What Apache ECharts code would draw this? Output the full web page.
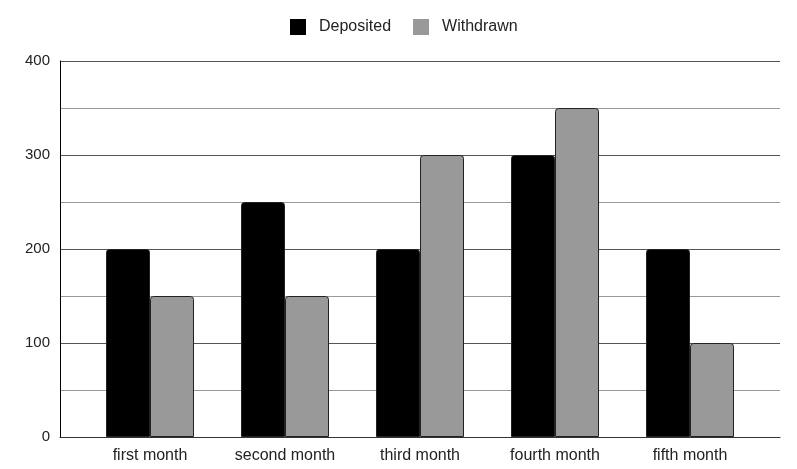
<!DOCTYPE html>
<html><head><meta charset="utf-8">
<script src="https://cdn.jsdelivr.net/npm/echarts@6/dist/echarts.min.js"></script>
<style>html,body{margin:0;padding:0;background:#fff}#c{width:797px;height:469px}</style>
</head><body><div id="c"></div>
<script>
const categories = ['first month', 'second month', 'third month', 'fourth month', 'fifth month'];
const deposited = [200, 250, 200, 300, 200];
const withdrawn = [150, 150, 300, 350, 100];
const yTicks = [0, 100, 200, 300, 400];

const chart = echarts.init(document.getElementById('c'), null, {renderer: 'canvas'});
const font = 'Liberation Sans, Arial, sans-serif';
chart.setOption({
  animation: false,
  backgroundColor: '#fff',
  legend: {
    top: 19, left: 290, padding: 0, itemWidth: 16, itemHeight: 16, itemGap: 22,
    icon: 'rect',
    itemStyle: {borderWidth: 0},
    textStyle: {fontFamily: font, fontSize: 16, color: '#222', padding: [0, 0, 0, 8]},
    data: ['Deposited', 'Withdrawn']
  },
  grid: [
    {left: 60, right: 17, top: 61, bottom: 32},
    {left: 82.5, right: 39.5, top: 61, bottom: 32}
  ],
  xAxis: [
    {type: 'value', gridIndex: 0, min: 0, max: 1, show: true,
     axisLine: {show: true, onZero: false, lineStyle: {color: '#333', width: 1}},
     axisTick: {show: false}, axisLabel: {show: false}, splitLine: {show: false}},
    {type: 'category', gridIndex: 1, data: categories,
     axisLine: {show: false}, axisTick: {show: false},
     axisLabel: {fontFamily: font, fontSize: 16, color: '#222', margin: 11}}
  ],
  yAxis: [
    {type: 'value', gridIndex: 0, min: yTicks[0], max: yTicks[yTicks.length - 1], interval: 100,
     axisLine: {show: true, lineStyle: {color: '#000', width: 1}},
     axisTick: {show: false},
     axisLabel: {fontFamily: font, fontSize: 15, color: '#222', margin: 10},
     splitLine: {show: true, lineStyle: {color: '#555', width: 1}},
     minorTick: {show: false, splitNumber: 2},
     minorSplitLine: {show: true, lineStyle: {color: '#999', width: 1}}},
    {type: 'value', gridIndex: 1, min: yTicks[0], max: yTicks[yTicks.length - 1], show: false}
  ],
  series: [
    {name: 'Deposited', type: 'bar', xAxisIndex: 1, yAxisIndex: 1, data: deposited,
     barWidth: 44, barGap: '0%',
     itemStyle: {color: '#000', borderColor: '#222', borderWidth: 1, borderRadius: [3, 3, 0, 0]}},
    {name: 'Withdrawn', type: 'bar', xAxisIndex: 1, yAxisIndex: 1, data: withdrawn,
     barWidth: 44, barGap: '0%',
     itemStyle: {color: '#999', borderColor: '#222', borderWidth: 1, borderRadius: [3, 3, 0, 0]}}
  ]
});
</script></body></html>
